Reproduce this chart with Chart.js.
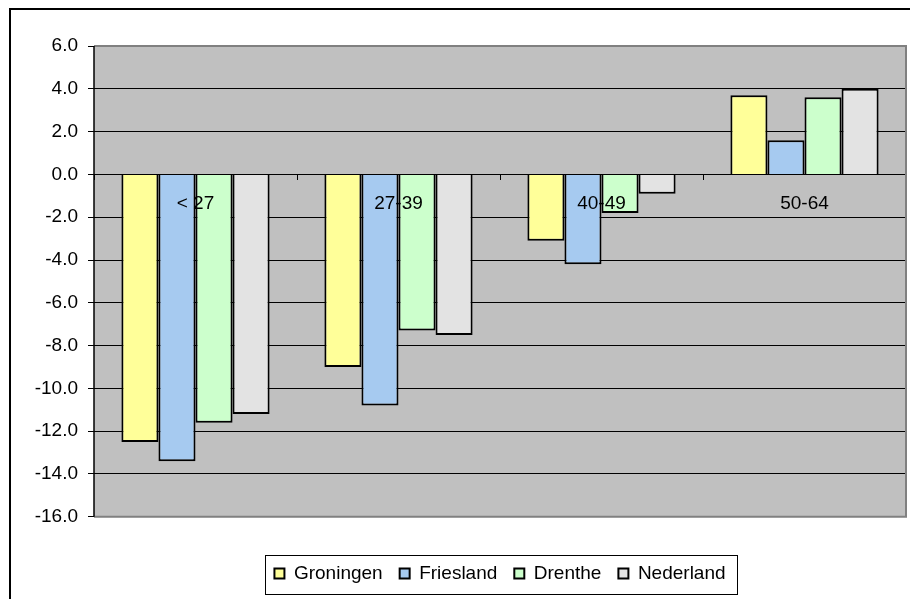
<!DOCTYPE html>
<html>
<head>
<meta charset="utf-8">
<script src="https://cdn.jsdelivr.net/npm/chart.js@4"></script>
<style>
  html, body { margin: 0; padding: 0; background: #fff; }
  #wrap { width: 910px; height: 599px; }
</style>
</head>
<body>
<div id="wrap"><canvas id="myChart" width="910" height="599"></canvas></div>
<script>
// leeftijdsgroepen
const categories = ['< 27', '27-39', '40-49', '50-64'];
const groningen = [-12.5, -9.0, -3.1, 3.7];
const friesland = [-13.4, -10.8, -4.2, 1.6];
const drenthe = [-11.6, -7.3, -1.8, 3.6];
const nederland = [-11.2, -7.5, -0.9, 4.0];
const yTicks = [6, 4, 2, 0, -2, -4, -6, -8, -10, -12, -14, -16];

const FONT = 'Arial, "Liberation Sans", sans-serif';

// grijze achtergrond + kaders
const frame = {
    id: 'frame',
    beforeDraw(chart) {
        const ctx = chart.ctx;
        const a = chart.chartArea;
        ctx.save();
        ctx.fillStyle = '#C0C0C0';
        ctx.fillRect(a.left, a.top, a.right - a.left, a.bottom - a.top);
        ctx.restore();
    },
    afterDraw(chart) {
        const ctx = chart.ctx;
        const a = chart.chartArea;
        ctx.save();
        // plot kader (grijs)
        ctx.strokeStyle = '#808080';
        ctx.lineWidth = 2;
        ctx.beginPath();
        ctx.moveTo(a.left, a.top);
        ctx.lineTo(a.right, a.top);
        ctx.lineTo(a.right, a.bottom);
        ctx.lineTo(a.left, a.bottom);
        ctx.stroke();
        // y-as lijn
        ctx.strokeStyle = '#000';
        ctx.lineWidth = 1.5;
        ctx.beginPath();
        ctx.moveTo(a.left, a.top);
        ctx.lineTo(a.left, a.bottom);
        ctx.stroke();
        // buitenkader
        ctx.lineWidth = 2;
        ctx.strokeRect(10, 9, 920, 620);
        // legenda kader
        const boxes = chart.legend.legendHitBoxes;
        if (boxes && boxes.length) {
            let minX = Math.min(...boxes.map(b => b.left));
            let maxX = Math.max(...boxes.map(b => b.left + b.width));
            let cy = boxes[0].top + boxes[0].height / 2;
            ctx.strokeStyle = '#000';
            ctx.lineWidth = 1;
            ctx.strokeRect(Math.round(minX - 9) + 0.5, Math.round(cy - 19) + 0.5, Math.round(maxX - minX + 21), 39);
        }
        ctx.restore();
    }
};

let ctx = document.getElementById('myChart');
const data = {
    labels: categories,
    datasets: [
        { label: 'Groningen', data: groningen, backgroundColor: '#FFFF99' },
        { label: 'Friesland', data: friesland, backgroundColor: '#A6CAF0' },
        { label: 'Drenthe', data: drenthe, backgroundColor: '#CCFFCC' },
        { label: 'Nederland', data: nederland, backgroundColor: '#E3E3E3' }
    ].map(ds => Object.assign(ds, {
        borderColor: '#000',
        borderWidth: 2,
        barPercentage: 1,
        categoryPercentage: 0.73
    }))
};

const config = {
    type: 'bar',
    data: data,
    options: {
        responsive: false,
        animation: false,
        layout: { padding: { top: 46, right: 4, left: 0, bottom: 6 } },
        plugins: {
            tooltip: { enabled: false },
            legend: {
                position: 'bottom',
                fullSize: false,
                title: {
                    display: true,
                    text: '',
                    font: { size: 1 },
                    padding: { top: 29, bottom: 0 }
                },
                labels: {
                    color: '#000',
                    font: { family: FONT, size: 19 },
                    boxWidth: 10,
                    boxHeight: 10,
                    padding: 17
                }
            }
        },
        scales: {
            x: {
                position: { y: 0 },
                afterFit: (scale) => { scale.height = 0; },
                border: { display: true, color: '#000', width: 1 },
                grid: {
                    offset: true,
                    drawOnChartArea: false,
                    tickLength: 5,
                    color: '#000'
                },
                ticks: {
                    z: 1,
                    color: '#000',
                    font: { family: FONT, size: 19 },
                    padding: 13,
                    maxRotation: 0
                }
            },
            y: {
                min: -16,
                max: 6,
                afterFit: (scale) => { scale.width = 94; },
                afterBuildTicks: (scale) => {
                    scale.ticks = yTicks.slice().reverse().map(v => ({ value: v }));
                },
                border: { display: false },
                grid: {
                    color: (c) => (c.tick && (c.tick.value === 6 || c.tick.value === -16)) ? 'rgba(0,0,0,0)' : '#000',
                    tickColor: '#000',
                    tickLength: 6,
                    lineWidth: 1
                },
                ticks: {
                    color: '#000',
                    font: { family: FONT, size: 19 },
                    padding: 10,
                    callback: (v) => Number(v).toFixed(1)
                }
            }
        }
    },
    plugins: [frame]
};

new Chart(ctx, config);
</script>
</body>
</html>
